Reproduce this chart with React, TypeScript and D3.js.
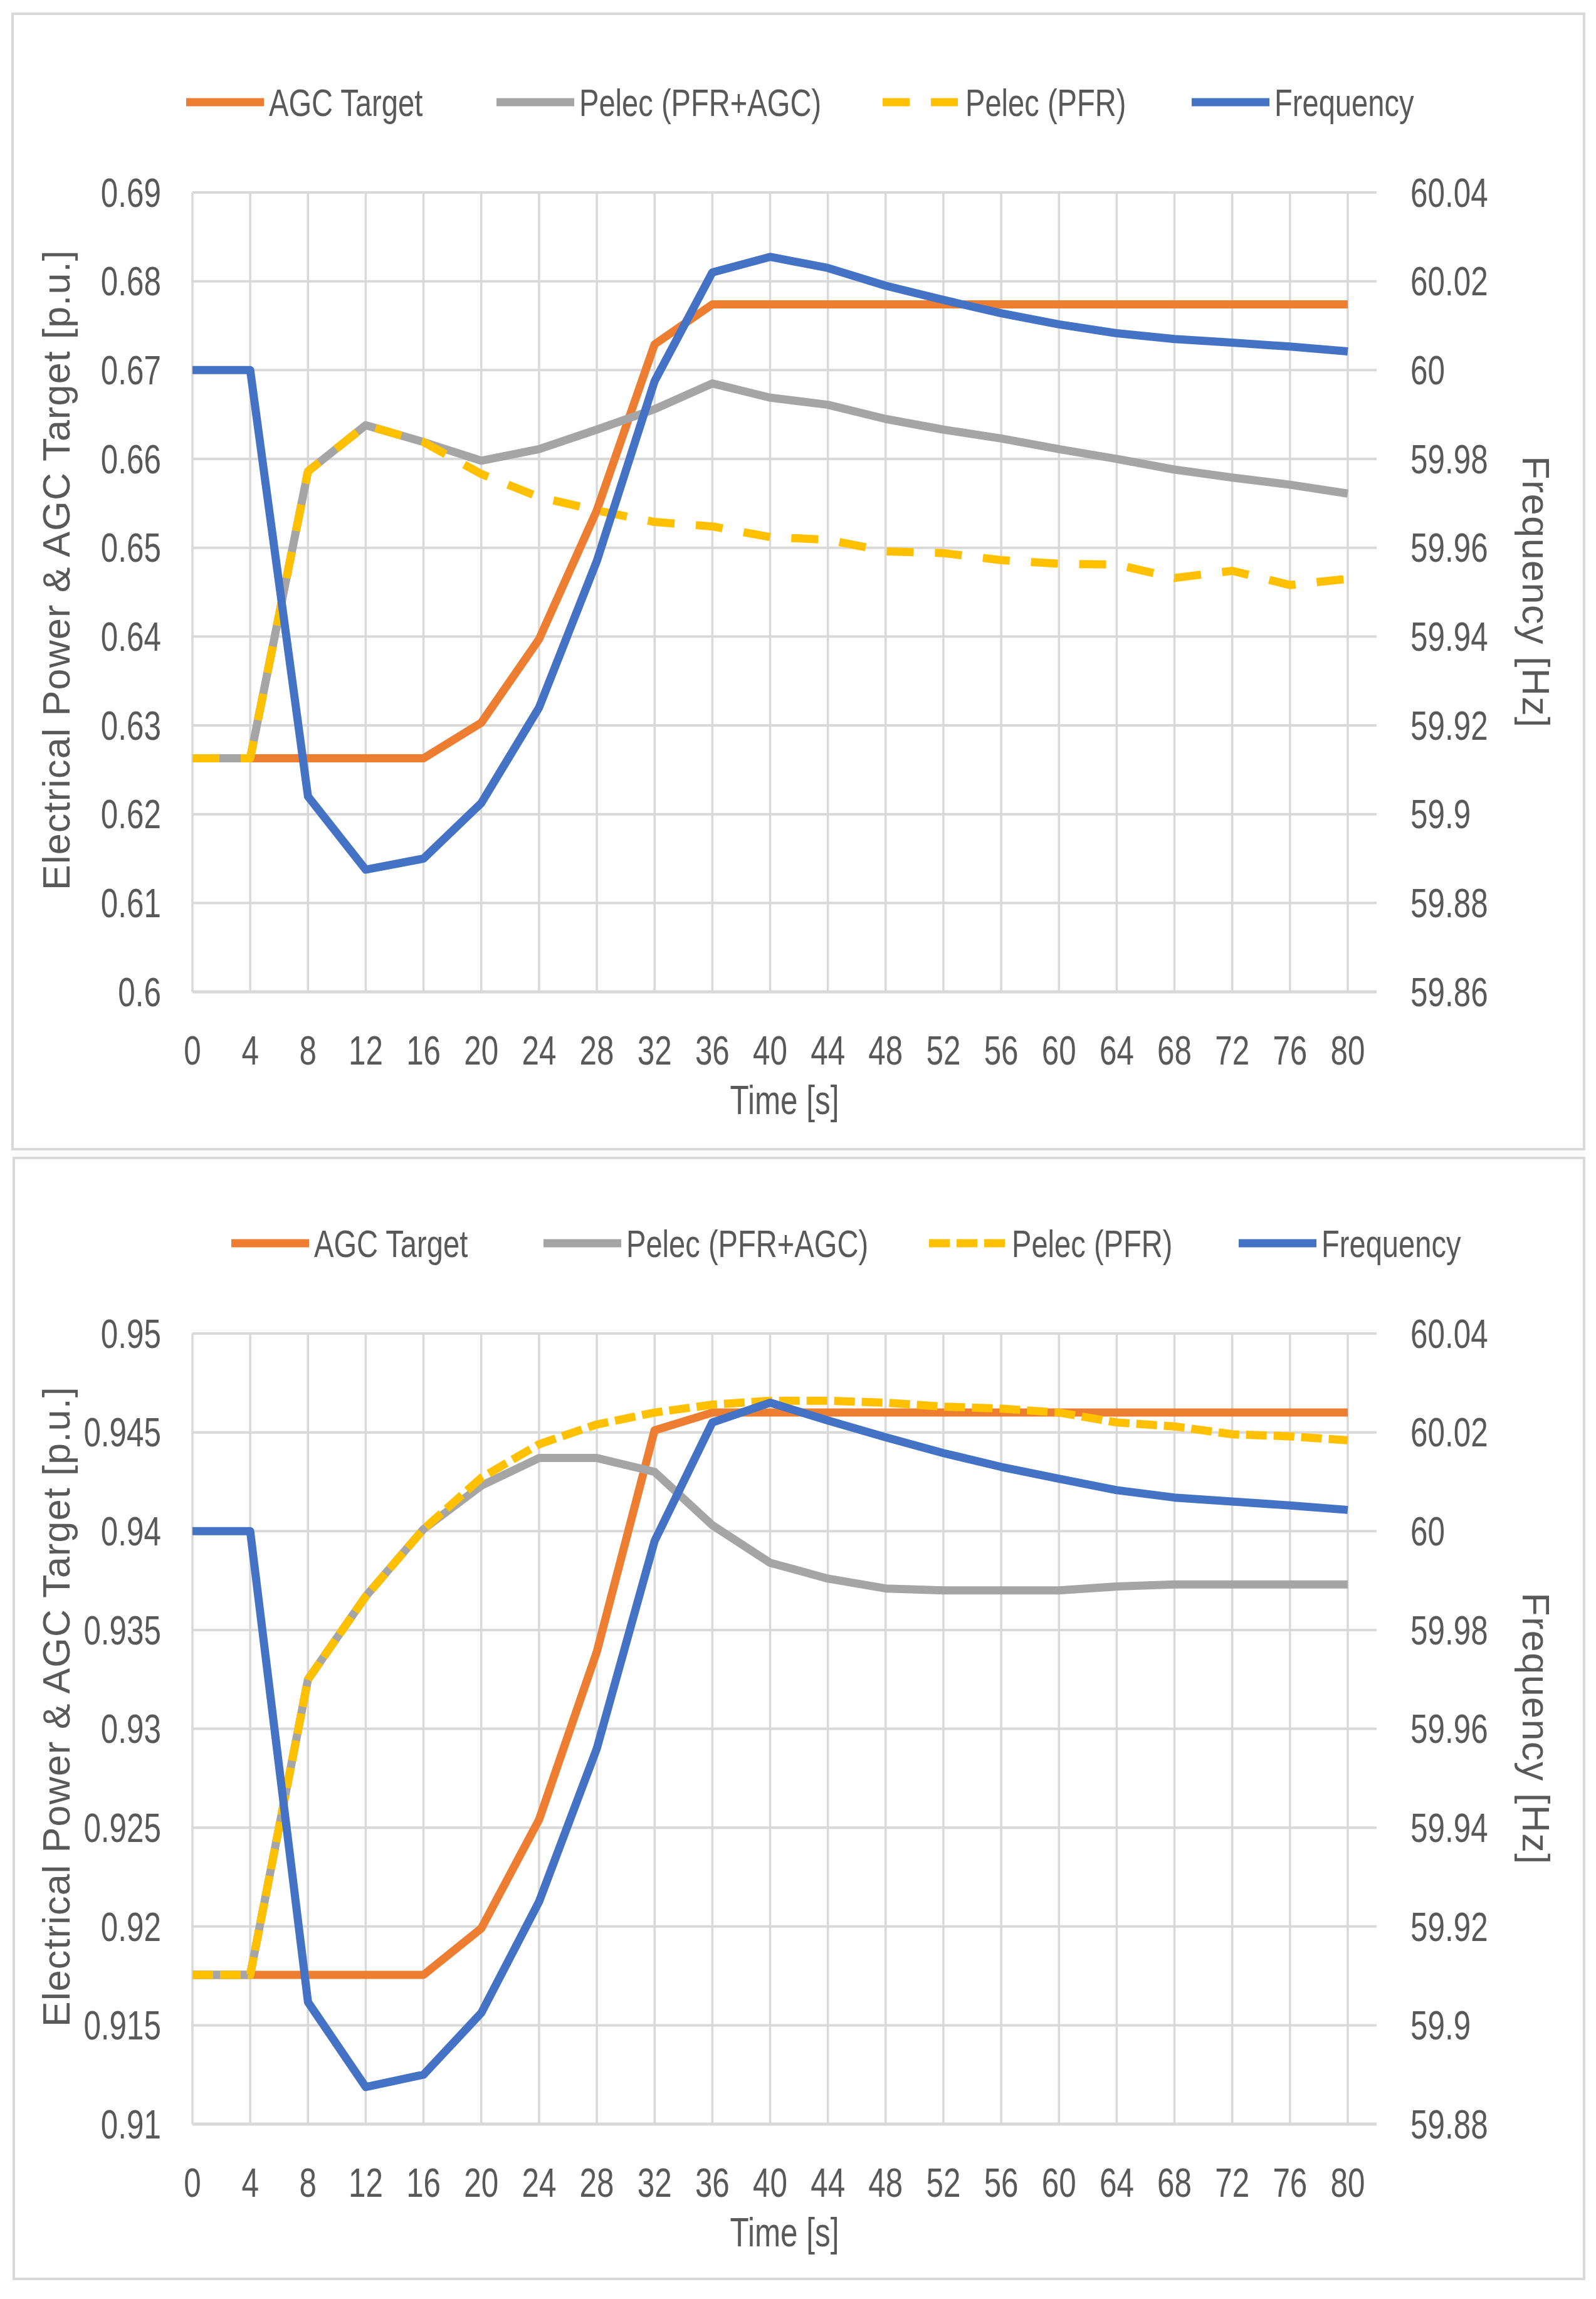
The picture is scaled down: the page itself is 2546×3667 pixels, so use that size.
import React from 'react';
import * as d3 from 'd3';

// time axis [s]
const time = [0, 4, 8, 12, 16, 20, 24, 28, 32, 36, 40, 44, 48, 52, 56, 60, 64, 68, 72, 76, 80];

// upper chart
const agcTop = [0.6263, 0.6263, 0.6263, 0.6263, 0.6263, 0.6303, 0.6397, 0.6542, 0.6729, 0.6774, 0.6774,
  0.6774, 0.6774, 0.6774, 0.6774, 0.6774, 0.6774, 0.6774, 0.6774, 0.6774, 0.6774];
const pelecTop = [0.6263, 0.6263, 0.6586, 0.6638, 0.6619, 0.6598, 0.6611, 0.6633, 0.6656, 0.6685, 0.6669,
  0.6661, 0.6645, 0.6633, 0.6623, 0.6611, 0.66, 0.6588, 0.6579, 0.6571, 0.6561];
const pfrTop = [0.6263, 0.6263, 0.6586, 0.6638, 0.6619, 0.6583, 0.6557, 0.6542, 0.6529, 0.6524, 0.6512,
  0.6509, 0.6496, 0.6494, 0.6486, 0.6482, 0.6481, 0.6466, 0.6474, 0.6458, 0.6465];
const freqTop = [60.0, 60.0, 59.904, 59.8875, 59.89, 59.9025, 59.924, 59.957, 59.9975, 60.022, 60.0255,
  60.023, 60.019, 60.0158, 60.0128, 60.0103, 60.0083, 60.007, 60.0062, 60.0053, 60.0042];

// lower chart
const agcBot = [0.91755, 0.91755, 0.91755, 0.91755, 0.91755, 0.9199, 0.9254, 0.9339, 0.9451, 0.946, 0.946,
  0.946, 0.946, 0.946, 0.946, 0.946, 0.946, 0.946, 0.946, 0.946, 0.946];
const pelecBot = [0.91755, 0.91755, 0.9325, 0.9367, 0.9401, 0.9423, 0.9437, 0.9437, 0.943, 0.9403, 0.9384,
  0.9376, 0.9371, 0.937, 0.937, 0.937, 0.9372, 0.9373, 0.9373, 0.9373, 0.9373];
const pfrBot = [0.91755, 0.91755, 0.9325, 0.9367, 0.9401, 0.9427, 0.9444, 0.9454, 0.946, 0.9464, 0.9466,
  0.9466, 0.9465, 0.9463, 0.9462, 0.946, 0.9455, 0.9453, 0.9449, 0.9448, 0.9446];
const freqBot = [60.0, 60.0, 59.9047, 59.8875, 59.89, 59.9025, 59.925, 59.956, 59.998, 60.022, 60.026,
  60.0224, 60.019, 60.0158, 60.013, 60.0106, 60.0083, 60.0068, 60.006, 60.0052, 60.0043];

const seriesNames = ['AGC Target', 'Pelec (PFR+AGC)', 'Pelec (PFR)', 'Frequency'];
const leftTicksTop = [0.6, 0.61, 0.62, 0.63, 0.64, 0.65, 0.66, 0.67, 0.68, 0.69];
const rightTicksTop = [59.86, 59.88, 59.9, 59.92, 59.94, 59.96, 59.98, 60, 60.02, 60.04];
const leftTicksBot = [0.91, 0.915, 0.92, 0.925, 0.93, 0.935, 0.94, 0.945, 0.95];
const rightTicksBot = [59.88, 59.9, 59.92, 59.94, 59.96, 59.98, 60, 60.02, 60.04];

const COLORS = ['#ED7D31', '#A5A5A5', '#FFC000', '#4472C4'];
const FONT = '"Liberation Sans", Arial, sans-serif';
const TXT = '#595959';
const GRID = '#D9D9D9';
const SX = 0.76; // narrow look of the chart font
const LW = 13;

function Chart(props) {
  const { box, top, bottom, leftDomain, rightDomain, leftTicks, rightTicks, agc, pelec, pfr, freq, legendX, dash, legendDash, leftTitleY } = props;
  const x = d3.scaleLinear().domain([0, 80]).range([307, 2150]);
  const plotRight = 2196;
  const yl = d3.scaleLinear().domain(leftDomain).range([bottom, top]);
  const yr = d3.scaleLinear().domain(rightDomain).range([bottom, top]);
  const lineL = d3.line<number>().x((d, i) => x(time[i])).y(d => yl(d));
  const lineR = d3.line<number>().x((d, i) => x(time[i])).y(d => yr(d));
  const legendY = top - 144;
  const midY = (top + bottom) / 2;
  const xMid = (307 + plotRight) / 2;

  return (
    <g fontFamily={FONT} fill={TXT}>
      <rect x={box[0]} y={box[1]} width={box[2]} height={box[3]} fill="#fff" stroke={GRID} strokeWidth={4} />
      {/* gridlines */}
      {leftTicks.map((t, i) => (
        <line key={'h' + i} x1={307} x2={plotRight} y1={yl(t)} y2={yl(t)} stroke={GRID} strokeWidth={i === 0 ? 5 : 4} />
      ))}
      {time.map((t, i) => (
        <line key={'v' + i} x1={x(t)} x2={x(t)} y1={top} y2={bottom} stroke={GRID} strokeWidth={3.5} />
      ))}
      {/* series */}
      <path d={lineL(agc)} fill="none" stroke={COLORS[0]} strokeWidth={LW} strokeLinejoin="round" />
      <path d={lineL(pelec)} fill="none" stroke={COLORS[1]} strokeWidth={LW} strokeLinejoin="round" />
      <path d={lineL(pfr)} fill="none" stroke={COLORS[2]} strokeWidth={LW} strokeLinejoin="round" strokeDasharray={dash} />
      <path d={lineR(freq)} fill="none" stroke={COLORS[3]} strokeWidth={LW} strokeLinejoin="round" />
      {/* left axis labels */}
      {leftTicks.map((t, i) => (
        <text key={'l' + i} transform={`translate(257,${yl(t)}) scale(${SX},1)`} textAnchor="end" dy="0.35em" fontSize={65}>
          {String(+t.toFixed(3))}
        </text>
      ))}
      {/* right axis labels */}
      {rightTicks.map((t, i) => (
        <text key={'r' + i} transform={`translate(2250,${yr(t)}) scale(${SX},1)`} textAnchor="start" dy="0.35em" fontSize={65}>
          {String(+t.toFixed(2))}
        </text>
      ))}
      {/* x axis labels */}
      {time.map((t, i) => (
        <text key={'x' + i} transform={`translate(${x(t)},${bottom + 116}) scale(${SX},1)`} textAnchor="middle" fontSize={65}>
          {t}
        </text>
      ))}
      <text transform={`translate(${xMid},${bottom + 195}) scale(${SX},1)`} textAnchor="middle" fontSize={65}>Time [s]</text>
      <text transform={`translate(90,${leftTitleY}) rotate(-90)`} textAnchor="middle" dy="0.35em" fontSize={61} letterSpacing={1.2}>
        Electrical Power &amp; AGC Target [p.u.]
      </text>
      <text transform={`translate(2450,${midY}) rotate(90)`} textAnchor="middle" dy="0.35em" fontSize={61} letterSpacing={1.5}>
        Frequency  [Hz]
      </text>
      {/* legend */}
      {seriesNames.map((n, i) => (
        <g key={'lg' + i}>
          <line x1={legendX[i]} x2={legendX[i] + 124} y1={legendY} y2={legendY} stroke={COLORS[i]} strokeWidth={LW}
            strokeDasharray={i === 2 ? legendDash : undefined} />
          <text transform={`translate(${legendX[i] + 132},${legendY}) scale(${SX},1)`} dy="0.35em" fontSize={62}>{n}</text>
        </g>
      ))}
    </g>
  );
}

export default function App() {
  return (
    <svg width={2546} height={3667} style={{ position: 'absolute', left: 0, top: 0, background: '#fff' }}>
      <rect x={0} y={0} width={2546} height={3667} fill="#fff" />
      <Chart box={[20, 22, 2507, 1811]} top={307} bottom={1582}
        leftDomain={[0.6, 0.69]} rightDomain={[59.86, 60.04]}
        leftTicks={leftTicksTop} rightTicks={rightTicksTop}
        agc={agcTop} pelec={pelecTop} pfr={pfrTop} freq={freqTop}
        legendX={[297, 792, 1408, 1901]} dash="43 34" legendDash="43 34" leftTitleY={909} />
      <Chart box={[22, 1847, 2505, 1788]} top={2127} bottom={3388}
        leftDomain={[0.91, 0.95]} rightDomain={[59.88, 60.04]}
        leftTicks={leftTicksBot} rightTicks={rightTicksBot}
        agc={agcBot} pelec={pelecBot} pfr={pfrBot} freq={freqBot}
        legendX={[369, 867, 1482, 1976]} dash="33 11" legendDash="33 11" leftTitleY={2722} />
    </svg>
  );
}
